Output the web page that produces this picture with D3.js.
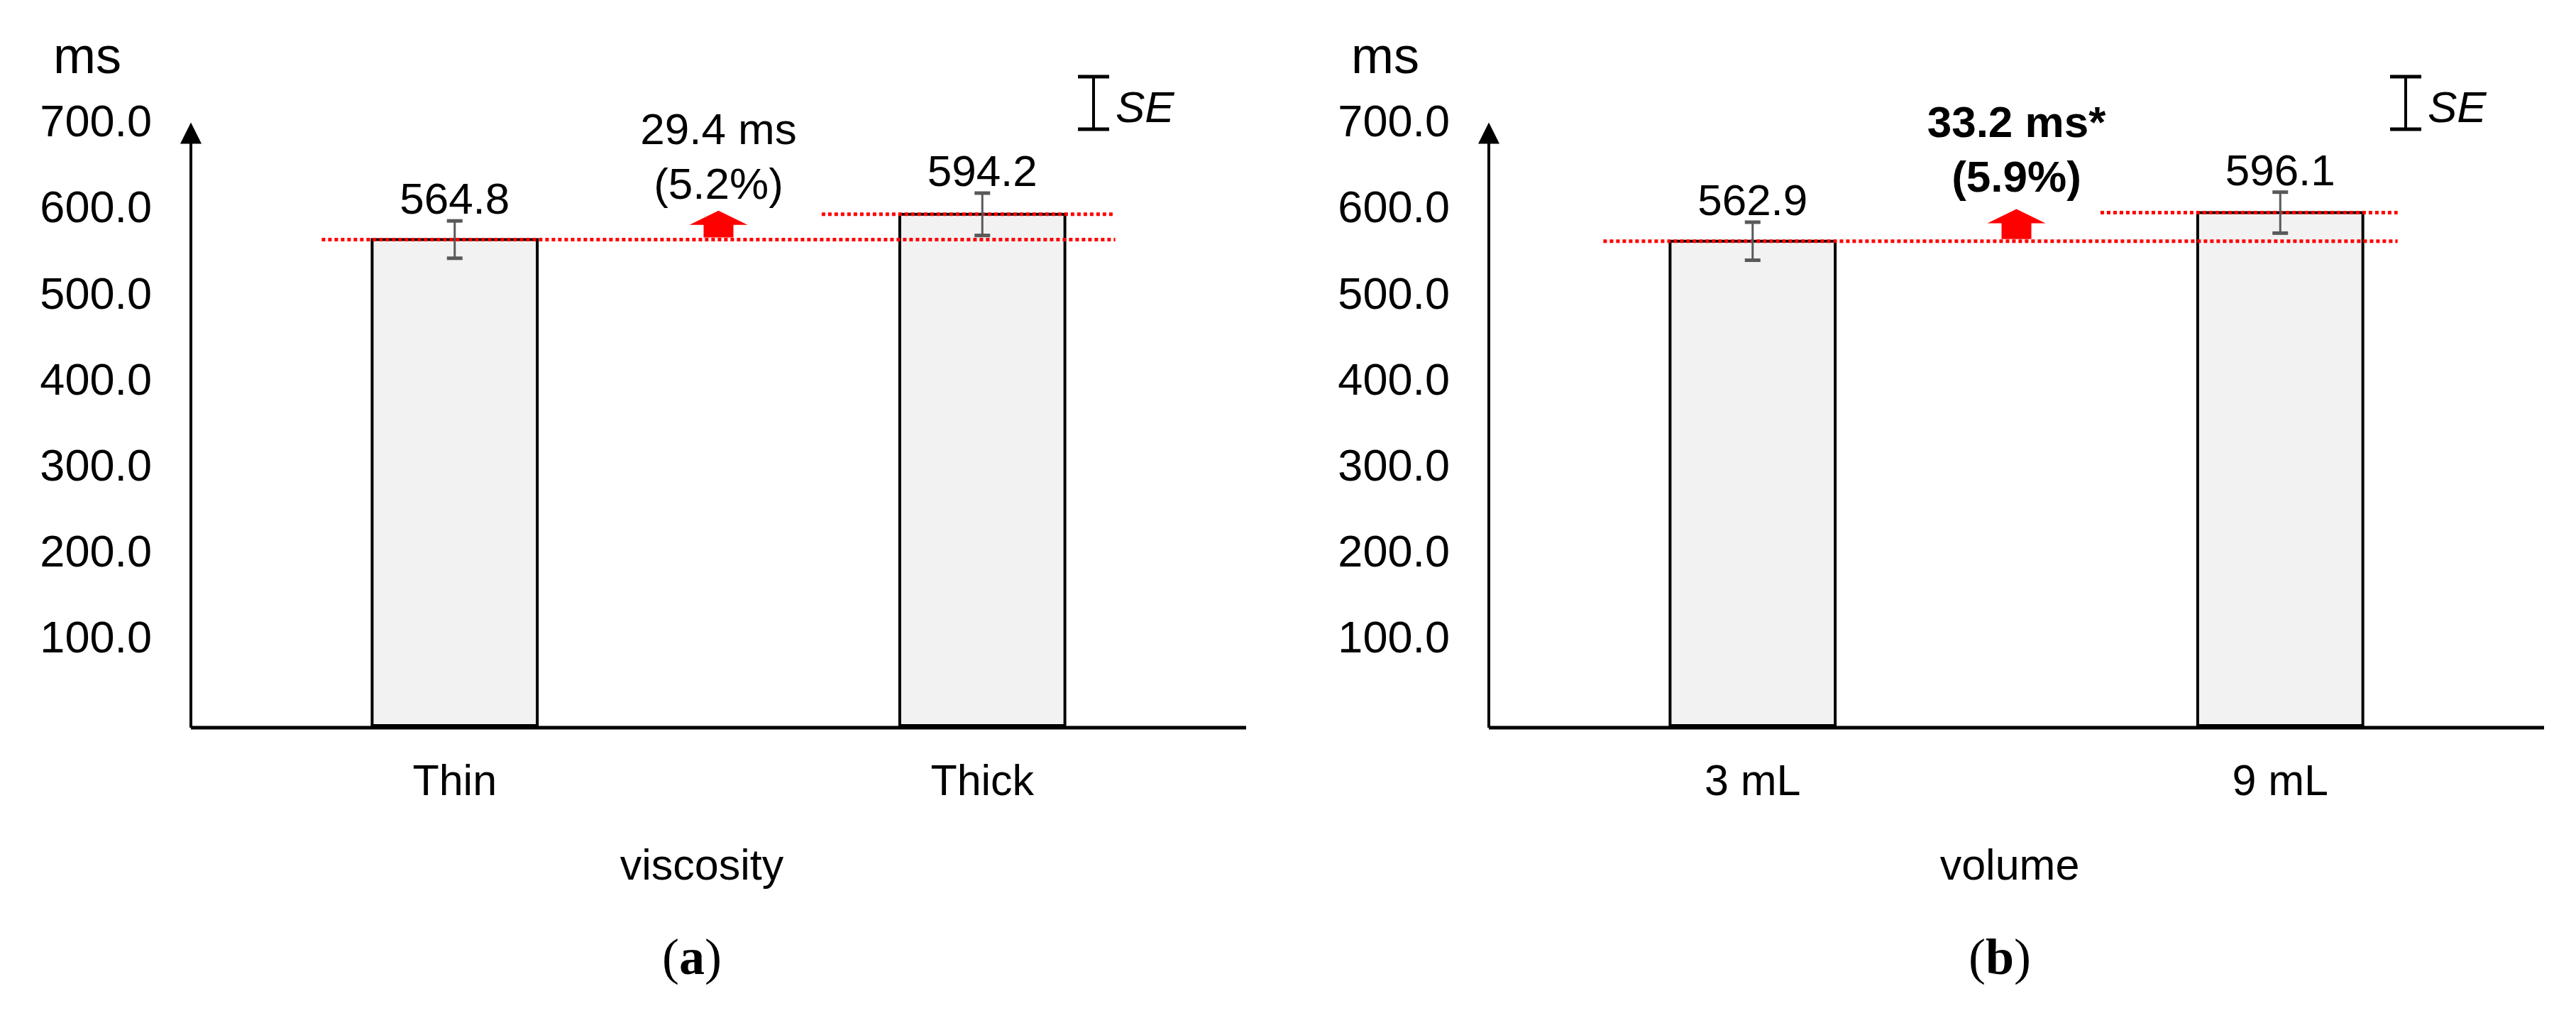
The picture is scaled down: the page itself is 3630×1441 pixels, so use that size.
<!DOCTYPE html>
<html>
<head>
<meta charset="utf-8">
<script src="https://cdn.jsdelivr.net/npm/d3@7"></script>
<style>
  body { margin: 0; background: #fff; }
  svg { display: block; }
  text { font-family: "Liberation Sans", Arial, sans-serif; fill: #000; }
</style>
</head>
<body>
<div id="chart"></div>
<script>
// values
const viscosityCats = ["Thin", "Thick"];
const viscosityMeans = [564.8, 594.2];
const viscosityErr = [21.7, 24.6];

const volumeCats = ["3 mL", "9 mL"];
const volumeMeans = [562.9, 596.1];
const volumeErr = [22.1, 23.8];

const yTicks = [100, 200, 300, 400, 500, 600, 700];
const axisTitles = ["viscosity", "volume"];
const diffTexts = [["29.4 ms", "(5.2%)"], ["33.2 ms*", "(5.9%)"]];
const panelTags = ["a", "b"];

var W = 3630, H = 1441;

// layout of each panel (pixel positions, not data)
var panels = [
  { cats: viscosityCats, means: viscosityMeans, err: viscosityErr,
    left: 269, lowPad: [71, 71], highPad: 110, bold: false,
    diffY: [203, 280], se: 1541, titleX: 989, tagX: 975 },
  { cats: volumeCats, means: volumeMeans, err: volumeErr,
    left: 2098, lowPad: [94, 49], highPad: 137, bold: true,
    diffY: [193, 270], se: 3390, titleX: 2832, tagX: 2818 }
];

var plotW = 1487;

var y = d3.scaleLinear().domain([0, 700]).range([1022, 173.6]);

var svg = d3.select("#chart").append("svg")
  .attr("width", W)
  .attr("height", H);

svg.append("rect").attr("width", W).attr("height", H).attr("fill", "#fff");

panels.forEach(function(p, i) {
  var g = svg.append("g").attr("transform", "translate(" + p.left + ",0)");

  var x = d3.scaleBand()
    .domain(p.cats)
    .range([0, plotW])
    .paddingInner(0.687)
    .paddingOuter(0.3435);

  // y axis labels
  var yAxis = d3.axisLeft(y)
    .tickValues(yTicks)
    .tickSize(0)
    .tickPadding(55)
    .tickFormat(d3.format(".1f"));

  var ya = g.append("g").call(yAxis);
  ya.select(".domain").remove();
  ya.selectAll("text")
    .attr("dy", null)
    .attr("y", 18)
    .style("font-size", "63px")
    .style("font-family", "'Liberation Sans', Arial, sans-serif");

  // unit
  g.append("text")
    .attr("x", -146)
    .attr("y", 103)
    .attr("text-anchor", "middle")
    .style("font-size", "72px")
    .text("ms");

  // x axis labels
  var xAxis = d3.axisBottom(x).tickSize(0).tickPadding(52);
  var xa = g.append("g")
    .attr("transform", "translate(0," + (y(0) + 3) + ")")
    .call(xAxis);
  xa.select(".domain").remove();
  xa.selectAll("text")
    .style("font-size", "61px")
    .style("font-family", "'Liberation Sans', Arial, sans-serif");

  var rows = p.cats.map(function(c, k) {
    return { cat: c, mean: p.means[k], err: p.err[k] };
  });

  // bars
  g.selectAll("rect.bar")
    .data(rows)
    .join("rect")
    .attr("class", "bar")
    .attr("x", function(d) { return x(d.cat); })
    .attr("y", function(d) { return y(d.mean); })
    .attr("width", x.bandwidth())
    .attr("height", function(d) { return y(0) - y(d.mean); })
    .attr("fill", "#f2f2f2")
    .attr("stroke", "#000")
    .attr("stroke-width", 4);

  // y axis line with arrow
  g.append("line")
    .attr("x1", 0).attr("x2", 0)
    .attr("y1", y(0) + 3).attr("y2", y(700) + 25)
    .attr("stroke", "#000").attr("stroke-width", 4);
  g.append("path")
    .attr("d", "M0," + (y(700) - 1) + "L15," + (y(700) + 29) + "L-15," + (y(700) + 29) + "Z")
    .attr("fill", "#000");

  // x axis line
  g.append("line")
    .attr("x1", 0).attr("x2", plotW)
    .attr("y1", y(0) + 3).attr("y2", y(0) + 3)
    .attr("stroke", "#000").attr("stroke-width", 5);

  // red dotted reference lines
  var lo = p.means[0], hi = p.means[1];
  var x0 = x(p.cats[0]), x1 = x(p.cats[1]);
  g.append("line")
    .attr("x1", x0 - p.lowPad[0]).attr("x2", x1 + x.bandwidth() + p.lowPad[1])
    .attr("y1", y(lo)).attr("y2", y(lo))
    .attr("stroke", "#ff0000").attr("stroke-width", 5)
    .attr("stroke-dasharray", "5,4");
  g.append("line")
    .attr("x1", x1 - p.highPad).attr("x2", x1 + x.bandwidth() + p.lowPad[1])
    .attr("y1", y(hi)).attr("y2", y(hi))
    .attr("stroke", "#ff0000").attr("stroke-width", 5)
    .attr("stroke-dasharray", "5,4");

  // error bars
  var eb = g.selectAll("g.err")
    .data(rows)
    .join("g")
    .attr("class", "err")
    .attr("transform", function(d) { return "translate(" + (x(d.cat) + x.bandwidth() / 2) + ",0)"; });
  eb.append("line")
    .attr("y1", function(d) { return y(d.mean + d.err); })
    .attr("y2", function(d) { return y(d.mean - d.err); })
    .attr("stroke", "#595959").attr("stroke-width", 3);
  eb.append("line")
    .attr("x1", -11).attr("x2", 11)
    .attr("y1", function(d) { return y(d.mean + d.err); })
    .attr("y2", function(d) { return y(d.mean + d.err); })
    .attr("stroke", "#595959").attr("stroke-width", 5);
  eb.append("line")
    .attr("x1", -11).attr("x2", 11)
    .attr("y1", function(d) { return y(d.mean - d.err); })
    .attr("y2", function(d) { return y(d.mean - d.err); })
    .attr("stroke", "#595959").attr("stroke-width", 5);

  // value labels
  g.selectAll("text.val")
    .data(rows)
    .join("text")
    .attr("class", "val")
    .attr("x", function(d) { return x(d.cat) + x.bandwidth() / 2; })
    .attr("y", function(d) { return y(d.mean + d.err) - 10; })
    .attr("text-anchor", "middle")
    .style("font-size", "62px")
    .text(function(d) { return d3.format(".1f")(d.mean); });

  // red up arrow between the two levels
  var cx = plotW / 2;
  var tip = y(hi) - 5, base = tip + 20, bottom = y(lo) - 3;
  g.append("path")
    .attr("d", "M" + cx + "," + tip +
      "L" + (cx + 41) + "," + base +
      "L" + (cx + 21) + "," + base +
      "L" + (cx + 21) + "," + bottom +
      "L" + (cx - 21) + "," + bottom +
      "L" + (cx - 21) + "," + base +
      "L" + (cx - 41) + "," + base + "Z")
    .attr("fill", "#ff0000");

  // difference text
  diffTexts[i].forEach(function(t, k) {
    g.append("text")
      .attr("x", cx)
      .attr("y", p.diffY[k])
      .attr("text-anchor", "middle")
      .style("font-size", "62px")
      .style("font-weight", p.bold ? "bold" : "normal")
      .text(t);
  });

  // SE legend
  var sx = p.se - p.left;
  var se = g.append("g").attr("stroke", "#000").attr("stroke-width", 5);
  se.append("line").attr("x1", sx).attr("x2", sx).attr("y1", 108).attr("y2", 182).attr("stroke-width", 4);
  se.append("line").attr("x1", sx - 22).attr("x2", sx + 22).attr("y1", 108).attr("y2", 108);
  se.append("line").attr("x1", sx - 22).attr("x2", sx + 22).attr("y1", 182).attr("y2", 182);
  g.append("text")
    .attr("x", sx + 31)
    .attr("y", 172)
    .style("font-size", "62px")
    .style("font-style", "italic")
    .text("SE");

  // axis title
  svg.append("text")
    .attr("x", p.titleX)
    .attr("y", 1239)
    .attr("text-anchor", "middle")
    .style("font-size", "61px")
    .text(axisTitles[i]);

  // panel tag
  var tag = svg.append("text")
    .attr("x", p.tagX)
    .attr("y", 1372)
    .attr("text-anchor", "middle")
    .style("font-family", "'Liberation Serif', 'Times New Roman', serif")
    .style("font-size", "72px");
  tag.append("tspan").text("(");
  tag.append("tspan").style("font-weight", "bold").text(panelTags[i]);
  tag.append("tspan").text(")");
});
</script>
</body>
</html>
